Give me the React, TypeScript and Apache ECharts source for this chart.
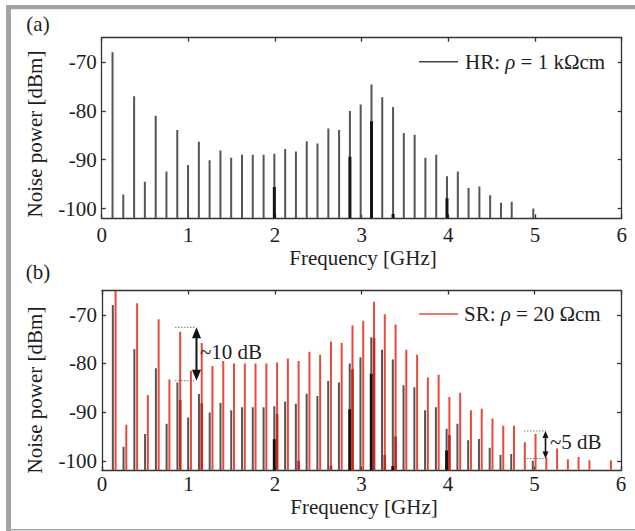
import React, { useEffect, useRef } from "react";
import * as echarts from "echarts";

const FONT = "Liberation Serif";
const Y_MIN = -102;
const Y_MAX = -65;
const X_TICKS = [0, 1, 2, 3, 4, 5, 6];
const Y_TICKS = [-100, -90, -80, -70];

// HR: rho = 1 kOhm cm (gray lines)
const HR_FREQ = [0.125, 0.249, 0.374, 0.498, 0.623, 0.747, 0.872, 0.996, 1.121, 1.245,
  1.37, 1.494, 1.619, 1.743, 1.868, 1.992, 2.117, 2.241, 2.366, 2.49,
  2.615, 2.739, 2.864, 2.988, 3.113, 3.237, 3.362, 3.486, 3.611, 3.735,
  3.86, 3.984, 4.109, 4.233, 4.358, 4.482, 4.607, 4.731, 4.98];
const HR_POWER = [-68.0, -97.1, -77.0, -94.5, -81.0, -92.4, -83.9, -91.1, -86.3, -90.1,
  -88.1, -89.6, -89.0, -89.0, -89.0, -88.8, -87.8, -88.3, -86.2, -86.7,
  -83.6, -83.9, -80.0, -78.7, -74.6, -77.2, -79.2, -84.5, -84.9, -89.6,
  -89.0, -93.4, -92.4, -95.8, -95.5, -97.3, -98.8, -98.6, -100.0];
// darker (black) overlapping lines of HR
const HR_DARK_FREQ = [1.992, 2.864, 3.113, 3.362, 3.984];
const HR_DARK_POWER = [-95.6, -89.4, -82.1, -101.1, -97.9];

// SR: rho = 20 Ohm cm (red lines)
const SR_FREQ = [0.157, 0.281, 0.406, 0.53, 0.655, 0.779, 0.904, 1.028, 1.153, 1.277,
  1.402, 1.526, 1.651, 1.775, 1.9, 2.024, 2.149, 2.273, 2.398, 2.522,
  2.647, 2.771, 2.896, 3.02, 3.145, 3.269, 3.394, 3.518, 3.643, 3.767,
  3.892, 4.016, 4.141, 4.265, 4.39, 4.514, 4.639, 4.763, 4.888, 5.012,
  5.137, 5.261, 5.386, 5.51, 5.635, 5.884];
const SR_POWER = [-65.1, -92.6, -67.6, -86.5, -70.9, -83.3, -73.5, -81.5, -75.8, -80.5,
  -79.5, -80.0, -80.0, -80.0, -80.0, -79.8, -79.0, -79.5, -77.6, -78.2,
  -75.5, -75.8, -72.2, -71.2, -67.3, -69.9, -72.0, -77.2, -78.2, -82.9,
  -82.3, -86.9, -86.0, -89.6, -89.3, -91.3, -92.8, -92.8, -96.2, -94.5,
  -99.3, -97.5, -99.7, -99.2, -99.9, -99.9];
const SR_DARK_FREQ = [0.904, 1.153, 2.024, 2.273, 2.647, 2.896, 3.145, 3.269, 3.394, 4.016];
const SR_DARK_POWER = [-87.5, -88.2, -90.4, -100.0, -101.0, -81.2, -74.8, -98.8, -95.0, -94.7];

const AXIS_COLOR = "#333";
const TEXT_COLOR = "#1e1e1e";
const GRAY = "#555555";
const BLACK = "#141414";
const RED = "#e8493d";
const DARK_RED = "#c8261d";
const FRAME = "#a3a3a3";

function bars(name: string, freq: number[], power: number[], color: string, width: number, axis: number, z: number) {
  return {
    type: "custom",
    name,
    xAxisIndex: axis * 2,
    yAxisIndex: axis * 2,
    clip: true,
    z,
    data: freq.map((f, i) => [f, power[i]]),
    encode: { x: 0, y: 1 },
    renderItem: (_params: any, api: any) => {
      const top = api.coord([api.value(0), api.value(1)]);
      const base = api.coord([api.value(0), Y_MIN]);
      return {
        type: "rect",
        shape: { x: top[0] - width / 2, y: top[1], width, height: base[1] - top[1] },
        style: { fill: color },
      };
    },
  };
}

function xAxis(grid: number, position: string, labelMargin: number) {
  return {
    type: "value",
    gridIndex: grid,
    position,
    min: 0,
    max: 6,
    interval: 1,
    axisLine: { show: true, onZero: false, lineStyle: { color: AXIS_COLOR, width: 1.3 } },
    axisTick: { show: true, inside: true, length: 4, lineStyle: { color: AXIS_COLOR, width: 1.3 }, customValues: X_TICKS },
    axisLabel: {
      show: position === "bottom",
      margin: labelMargin,
      fontSize: 21,
      lineHeight: 18,
      fontFamily: FONT,
      color: TEXT_COLOR,
      customValues: X_TICKS,
    },
    splitLine: { show: false },
  };
}

function yAxis(grid: number, position: string) {
  return {
    type: "value",
    gridIndex: grid,
    position,
    min: Y_MIN,
    max: Y_MAX,
    axisLine: { show: true, onZero: false, lineStyle: { color: AXIS_COLOR, width: 1.3 } },
    axisTick: { show: true, inside: true, length: 4, lineStyle: { color: AXIS_COLOR, width: 1.3 }, customValues: Y_TICKS },
    axisLabel: {
      show: position === "left",
      margin: 5,
      fontSize: 21,
      lineHeight: 18,
      fontFamily: FONT,
      color: TEXT_COLOR,
      customValues: Y_TICKS,
    },
    splitLine: { show: false },
  };
}

function text(t: string, x: number, y: number, extra: any = {}) {
  return {
    type: "text",
    x,
    y,
    z: 100,
    ...extra,
    style: {
      text: t,
      fontSize: 21,
      lineHeight: 18,
      fontFamily: FONT,
      fill: TEXT_COLOR,
      align: "center",
      verticalAlign: "middle",
      ...(extra.style || {}),
    },
  };
}

function legendText(label: string, value: string, x: number, y: number) {
  return {
    type: "text",
    x,
    y,
    z: 100,
    style: {
      text: `{a|${label}}{i|ρ}{a| = ${value}}`,
      align: "left",
      verticalAlign: "middle",
      rich: {
        a: { fontSize: 21, fontFamily: FONT, fill: TEXT_COLOR },
        i: { fontSize: 21, fontFamily: FONT, fontStyle: "italic", fill: TEXT_COLOR },
      },
    },
  };
}

function dotted(x1: number, y: number, x2: number) {
  return {
    type: "line",
    z: 100,
    shape: { x1, y1: y, x2, y2: y },
    style: { stroke: "#555", lineWidth: 0.8, lineDash: [1.5, 1.5] },
  };
}

function doubleArrow(x: number, y1: number, y2: number, head: number, halfW: number, lw: number) {
  return [
    { type: "line", z: 100, shape: { x1: x, y1: y1 + head * 0.8, x2: x, y2: y2 - head * 0.8 }, style: { stroke: "#111", lineWidth: lw } },
    { type: "polygon", z: 100, shape: { points: [[x, y1], [x - halfW, y1 + head], [x + halfW, y1 + head]] }, style: { fill: "#111" } },
    { type: "polygon", z: 100, shape: { points: [[x, y2], [x - halfW, y2 - head], [x + halfW, y2 - head]] }, style: { fill: "#111" } },
  ];
}

export default function App() {
  const ref = useRef<HTMLDivElement>(null);

  useEffect(() => {
    if (!ref.current) return;
    const chart = echarts.init(ref.current, undefined, { renderer: "svg" });
    const option: any = {
      animation: false,
      backgroundColor: "#ffffff",
      textStyle: { fontFamily: FONT },
      grid: [
        { left: 101.7, top: 37.7, width: 520, height: 180.6 },
        { left: 102, top: 290.5, width: 519, height: 180 },
      ],
      xAxis: [xAxis(0, "bottom", 7.5), xAxis(0, "top", 7.5), xAxis(1, "bottom", 4.7), xAxis(1, "top", 4.7)],
      yAxis: [yAxis(0, "left"), yAxis(0, "right"), yAxis(1, "left"), yAxis(1, "right")],
      series: [
        bars("HR", HR_FREQ, HR_POWER, GRAY, 2, 0, 2),
        bars("HR dark", HR_DARK_FREQ, HR_DARK_POWER, BLACK, 3, 0, 3),
        bars("HR", HR_FREQ, HR_POWER, GRAY, 2, 1, 2),
        bars("HR dark", HR_DARK_FREQ, HR_DARK_POWER, BLACK, 3, 1, 3),
        bars("SR", SR_FREQ, SR_POWER, RED, 2, 1, 4),
        bars("SR dark", SR_DARK_FREQ, SR_DARK_POWER, DARK_RED, 2.6, 1, 5),
      ],
      graphic: [
        // outer frame
        { type: "rect", z: 100, shape: { x: 6, y: 5, width: 629, height: 4.3 }, style: { fill: FRAME } },
        { type: "rect", z: 100, shape: { x: 6, y: 5, width: 5, height: 526 }, style: { fill: FRAME } },
        { type: "rect", z: 100, shape: { x: 6, y: 529, width: 629, height: 1.5 }, style: { fill: FRAME } },
        // panel labels
        text("(a)", 38, 24),
        text("(b)", 38, 272),
        // axis names
        text("Frequency [GHz]", 363, 257.5),
        text("Frequency [GHz]", 364, 506.5),
        text("Noise power [dBm]", 35, 134, { rotation: Math.PI / 2 }),
        text("Noise power [dBm]", 35, 390, { rotation: Math.PI / 2 }),
        // legends
        { type: "line", z: 100, shape: { x1: 419, y1: 61.7, x2: 458, y2: 61.7 }, style: { stroke: "#444", lineWidth: 1.5 } },
        legendText("HR: ", "1 kΩcm", 465, 62),
        { type: "line", z: 100, shape: { x1: 419, y1: 314, x2: 458, y2: 314 }, style: { stroke: RED, lineWidth: 1.5 } },
        legendText("SR: ", "20 Ωcm", 464, 314),
        // ~10 dB annotation
        dotted(175, 327.3, 196),
        dotted(175, 380.7, 196),
        ...doubleArrow(196.5, 327.3, 380.7, 11, 4.5, 2),
        text("~10 dB", 200, 352, { style: { align: "left" } }),
        // ~5 dB annotation
        dotted(524, 431, 546),
        dotted(524, 458.5, 546),
        ...doubleArrow(545.5, 431, 458.5, 7, 3, 1.6),
        text("~5 dB", 550, 442, { style: { align: "left" } }),
      ],
    };
    chart.setOption(option);
    return () => chart.dispose();
  }, []);

  return (
    <div
      ref={ref}
      style={{ position: "absolute", left: 0, top: 0, width: 635, height: 531, background: "#fff" }}
    />
  );
}
